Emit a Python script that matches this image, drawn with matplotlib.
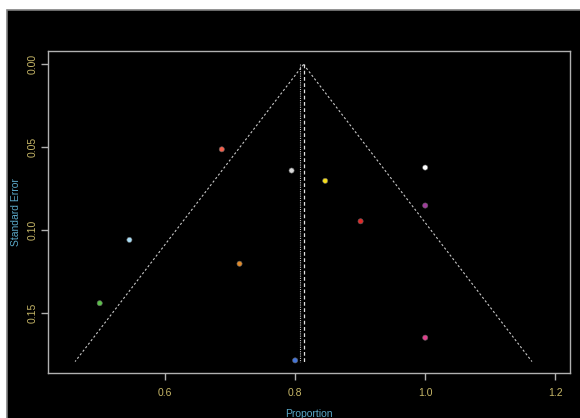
import numpy as np
import matplotlib.pyplot as plt
from matplotlib.patches import Rectangle

# Study proportions and their standard errors
proportion = [0.6872, 0.5452, 0.7145, 0.4995, 0.7945, 0.8462, 1.0, 1.0, 1.0, 0.8, 0.9006]
std_err = [0.0512, 0.1058, 0.1202, 0.1440, 0.0640, 0.0702, 0.0622, 0.0851, 0.1648, 0.1785, 0.0946]
colors = ['#f2604c', '#a8dcf4', '#e08a2a', '#5cc04a', '#d8d8d8', '#f4dc1c',
          '#ffffff', '#a03c9c', '#e0408c', '#4474d8', '#e02828']

fixed_est = 0.8129
random_est = 0.8077
se_max = 0.1792

plt.rcParams['font.family'] = ['Liberation Sans', 'DejaVu Sans']

fig = plt.figure(figsize=(5.8, 4.18), dpi=100, facecolor='white')
fig.patches.append(Rectangle((7 / 580, -0.01), 1, 1.01 - 10 / 418, transform=fig.transFigure,
                             facecolor='black', edgecolor='#808080', linewidth=1.2,
                             zorder=-10))

ax = fig.add_axes([48 / 580, 1 - 373 / 418, 522 / 580, 322 / 418])
ax.set_facecolor('black')

# funnel lines (95% limits around the fixed estimate)
se = np.array([0, se_max])
ax.plot(fixed_est - 1.96 * se, se, color='#c8c8c8', lw=0.8, ls=(0, (2, 2)))
ax.plot(fixed_est + 1.96 * se, se, color='#c8c8c8', lw=0.8, ls=(0, (2, 2)))
ax.plot([fixed_est, fixed_est], [0, se_max], color='#e0e0e0', lw=0.9, ls=(0, (3, 2)))
ax.plot([random_est, random_est], [0, se_max], color='#c0c0c0', lw=0.8, ls=(0, (1, 1)))

ax.scatter(proportion, std_err, s=14, c=colors, edgecolors='#606060', linewidths=0.4, zorder=3)

ax.set_xlim(0.42, 1.2226)
ax.set_ylim(0.1861, -0.0081)
ax.set_xticks([0.6, 0.8, 1.0, 1.2])
ax.set_xticklabels(['0.6', '0.8', '1.0', '1.2'])
ax.set_yticks([0.0, 0.05, 0.10, 0.15])
ax.set_yticklabels(['0.00', '0.05', '0.10', '0.15'], rotation=90, va='center')

for sp in ax.spines.values():
    sp.set_color('#b0b0b0')
    sp.set_linewidth(1.0)
ax.tick_params(colors='#b0b0b0', labelcolor='#c8b868', labelsize=7.5, length=5, width=1)
ax.tick_params(axis='x', pad=5.5)
ax.tick_params(axis='y', pad=2.5)

ax.set_xlabel('Proportion', color='#5aa8c8', fontsize=7.5, labelpad=8)
ax.set_ylabel('Standard Error', color='#5aa8c8', fontsize=7.5, labelpad=5)

fig.savefig('out.png', dpi=100, facecolor='white')
